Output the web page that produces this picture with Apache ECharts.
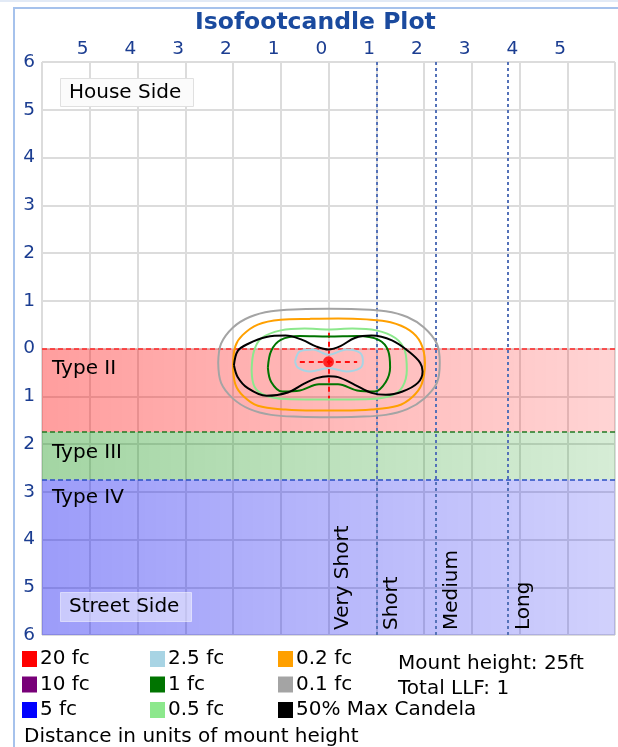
<!DOCTYPE html>
<html>
<head>
<meta charset="utf-8">
<script src="https://cdn.jsdelivr.net/npm/echarts@6/dist/echarts.min.js"></script>
<style>
html, body { margin: 0; padding: 0; background: #fff; }
#chart { width: 618px; height: 747px; }
</style>
</head>
<body>
<div id="chart"></div>
<script>
// distances are in units of mount height
const xMin = -6, xMax = 6
const yMin = -6, yMax = 6

// lateral classification bands
const bandNames = ['Type II', 'Type III', 'Type IV']
const bandTops = [0, -1.75, -2.75]
const bandBottoms = [-1.75, -2.75, -6]

// longitudinal classification lines
const rangeLines = [1, 2.25, 3.75]
const rangeNames = ['Short', 'Medium', 'Long']
const veryShortLine = 1

// legend entries, column by column
const legendCol1 = ['20 fc', '10 fc', '5 fc']
const legendCol2 = ['2.5 fc', '1 fc', '0.5 fc']
const legendCol3 = ['0.2 fc', '0.1 fc', '50% Max Candela']
const infoLines = ['Mount height: 25ft', 'Total LLF: 1']

// isofootcandle contours
const fc01 = [[-2.31, -0.3], [-2.25, 0.1], [-2.0, 0.44], [-1.65, 0.66], [-1.2, 0.78], [-0.6, 0.82], [0, 0.83], [0.6, 0.82], [1.2, 0.78], [1.65, 0.66], [2.0, 0.44], [2.27, 0.1], [2.33, -0.3], [2.27, -0.72], [2.0, -1.05], [1.65, -1.27], [1.2, -1.39], [0.6, -1.43], [0, -1.44], [-0.6, -1.43], [-1.2, -1.39], [-1.65, -1.27], [-2.0, -1.05], [-2.25, -0.72], [-2.31, -0.3]]
const fc02 = [[-2.0, -0.35], [-1.95, 0.05], [-1.8, 0.28], [-1.48, 0.5], [-1.0, 0.6], [-0.4, 0.62], [0.2, 0.63], [0.8, 0.61], [1.3, 0.55], [1.7, 0.38], [1.93, 0.12], [2.02, -0.3], [1.95, -0.75], [1.75, -1.02], [1.45, -1.2], [0.9, -1.28], [0.3, -1.3], [-0.3, -1.3], [-0.9, -1.28], [-1.48, -1.2], [-1.78, -1.0], [-1.95, -0.75], [-2.0, -0.35]]
const fc05 = [[-1.61, -0.45], [-1.56, -0.05], [-1.4, 0.22], [-1.0, 0.38], [-0.5, 0.42], [0, 0.4], [0.5, 0.42], [1.0, 0.38], [1.4, 0.22], [1.6, -0.05], [1.64, -0.45], [1.55, -0.8], [1.33, -0.98], [0.9, -1.06], [0.3, -1.07], [-0.3, -1.07], [-0.9, -1.06], [-1.33, -0.98], [-1.55, -0.8], [-1.61, -0.45]]
const fc1 = [[-1.27, -0.4], [-1.2, -0.05], [-1.0, 0.18], [-0.6, 0.26], [0, 0.25], [0.6, 0.26], [1.05, 0.18], [1.25, -0.05], [1.29, -0.4], [1.2, -0.7], [0.97, -0.9], [0.6, -0.88], [0.2, -0.75], [-0.2, -0.75], [-0.6, -0.88], [-0.97, -0.9], [-1.2, -0.7], [-1.27, -0.4]]
const fc25 = [[-0.7, -0.27], [-0.6, -0.06], [-0.32, -0.02], [0, -0.13], [0.38, -0.02], [0.66, -0.09], [0.72, -0.27], [0.66, -0.41], [0.38, -0.48], [0, -0.41], [-0.38, -0.48], [-0.64, -0.4], [-0.7, -0.27]]
const maxCandela50 = [[-1.98, -0.35], [-1.9, -0.05], [-1.68, 0.1], [-1.3, 0.24], [-0.9, 0.27], [-0.55, 0.18], [-0.25, 0.04], [0, -0.02], [0.25, 0.05], [0.55, 0.22], [0.9, 0.27], [1.33, 0.17], [1.7, -0.08], [1.92, -0.3], [1.97, -0.48], [1.87, -0.72], [1.55, -0.9], [1.2, -0.97], [0.9, -0.93], [0.55, -0.76], [0.2, -0.6], [0, -0.58], [-0.25, -0.62], [-0.5, -0.73], [-0.85, -0.92], [-1.3, -0.99], [-1.69, -0.83], [-1.9, -0.6], [-1.98, -0.35]]

// luminaire position and its aiming cross
const luminaire = [[0, -0.28]]
const crossVertical = [[0, 0.33], [0, -1.05]]
const crossHorizontal = [[-0.6, -0.28], [0.6, -0.28]]

const font = 'DejaVu Sans'
const tickBlue = '#1b3d91'
const textSize = 20

const bandColors = [
  ['rgba(255,0,0,0.38)', 'rgba(255,0,0,0.17)'],
  ['rgba(0,140,0,0.36)', 'rgba(0,140,0,0.16)'],
  ['rgba(0,0,240,0.39)', 'rgba(0,0,240,0.18)']
]
const bandLineColors = ['#ff2a2a', '#237a23', '#2b4fc4']
const bandLabelOffset = [[10, 10], [10, 11], [10, 8]]

const seriesColors = {
  '20 fc': '#ff0000',
  '10 fc': '#780078',
  '5 fc': '#0000ff',
  '2.5 fc': '#a8d4e4',
  '1 fc': '#007400',
  '0.5 fc': '#8ce88c',
  '0.2 fc': '#ffa000',
  '0.1 fc': '#a4a4a4',
  '50% Max Candela': '#000000'
}
const contourData = {
  '2.5 fc': fc25,
  '1 fc': fc1,
  '0.5 fc': fc05,
  '0.2 fc': fc02,
  '0.1 fc': fc01,
  '50% Max Candela': maxCandela50
}

const chartDom = document.getElementById('chart')
const chart = echarts.init(chartDom)

const absLabel = v => String(Math.abs(Math.round(v)))

const contourSeries = legendCol1.concat(legendCol2, legendCol3).map(name => ({
  name: name,
  type: 'line',
  data: contourData[name] || [],
  smooth: 0.35,
  symbol: 'none',
  color: seriesColors[name],
  lineStyle: { color: seriesColors[name], width: 2 },
  z: name === '50% Max Candela' ? 6 : 5,
  animation: false
}))

const legendBase = (data, left) => ({
  data: data,
  orient: 'vertical',
  left: left,
  top: 649,
  icon: 'rect',
  itemWidth: 15,
  itemHeight: 16,
  itemGap: 5.5,
  padding: 0,
  selectedMode: false,
  textStyle: { fontFamily: font, fontSize: textSize, color: '#000', padding: [0, 0, 0, -2] }
})

const plainText = { fontFamily: font, fontSize: textSize, fontWeight: 'normal', color: '#000' }

const option = {
  animation: false,
  title: [
    {
      text: 'Isofootcandle Plot',
      left: 195,
      top: 11,
      padding: 0,
      textStyle: { fontFamily: font, fontSize: 23.5, fontWeight: 'bold', color: '#1a4a9e' }
    },
    {
      text: 'House Side',
      left: 60,
      top: 78,
      padding: [5, 12, 4, 9],
      backgroundColor: '#fbfbfb',
      borderColor: '#e0e0e0',
      borderWidth: 1,
      textStyle: plainText
    },
    {
      text: 'Street Side',
      left: 60,
      top: 592,
      padding: [5, 12, 5, 9],
      backgroundColor: 'rgba(255,255,255,0.45)',
      borderColor: 'rgba(255,255,255,0.5)',
      borderWidth: 1,
      textStyle: plainText
    },
    {
      text: infoLines.join('\n'),
      left: 398,
      top: 652,
      padding: 0,
      textStyle: Object.assign({ lineHeight: 24.5 }, plainText)
    },
    {
      text: 'Distance in units of mount height',
      left: 24,
      top: 727,
      padding: 0,
      textStyle: plainText
    }
  ],
  legend: [
    legendBase(legendCol1, 22),
    legendBase(legendCol2, 150),
    legendBase(legendCol3, 278)
  ],
  graphic: [
    { type: 'line', shape: { x1: 0, y1: 1, x2: 618, y2: 1 }, style: { stroke: '#e2eaf6', lineWidth: 2 } },
    { type: 'rect', shape: { x: 14, y: 8, width: 640, height: 760 }, style: { fill: 'none', stroke: '#a6c2ec', lineWidth: 2 } }
  ],
  grid: { left: 42, right: 3, top: 62, bottom: 112, containLabel: false },
  xAxis: {
    type: 'value',
    position: 'top',
    min: xMin,
    max: xMax,
    interval: 1,
    axisLine: { show: false },
    axisTick: { show: false },
    axisLabel: {
      fontFamily: font,
      fontSize: 18.5,
      color: tickBlue,
      margin: 3,
      padding: [0, 14, 0, 0],
      formatter: v => (Math.abs(v) === 6 ? '' : absLabel(v))
    },
    splitLine: { show: true, lineStyle: { color: '#dcdcdc', width: 2 } }
  },
  yAxis: {
    type: 'value',
    min: yMin,
    max: yMax,
    interval: 1,
    axisLine: { show: false },
    axisTick: { show: false },
    axisLabel: {
      fontFamily: font,
      fontSize: 18.5,
      color: tickBlue,
      margin: 7,
      formatter: absLabel
    },
    splitLine: { show: true, lineStyle: { color: '#dcdcdc', width: 2 } }
  },
  series: [
    {
      name: 'zones',
      type: 'line',
      data: [],
      z: 2,
      markArea: {
        silent: true,
        data: bandNames.map((name, i) => [
          {
            name: name,
            yAxis: bandTops[i],
            itemStyle: {
              color: new echarts.graphic.LinearGradient(0, 0, 1, 0, [
                { offset: 0, color: bandColors[i][0] },
                { offset: 1, color: bandColors[i][1] }
              ])
            },
            label: {
              show: true,
              position: 'insideTopLeft',
              distance: 0,
              offset: bandLabelOffset[i],
              fontFamily: font,
              fontSize: textSize,
              color: '#000'
            }
          },
          { yAxis: bandBottoms[i] }
        ])
      },
      markLine: {
        silent: true,
        symbol: 'none',
        animation: false,
        data: bandTops.map((v, i) => ({
          yAxis: v,
          label: { show: false },
          lineStyle: { color: bandLineColors[i], type: [5, 3], width: 1.5 }
        })).concat([{
          xAxis: veryShortLine,
          label: {
            show: true,
            formatter: 'Very Short',
            position: 'insideStartTop',
            distance: [5, 23],
            fontFamily: font,
            fontSize: textSize,
            color: '#000'
          },
          lineStyle: { color: '#5572b8', type: [3, 3], width: 2 }
        }]).concat(rangeLines.map((v, i) => ({
          xAxis: v,
          label: {
            show: true,
            formatter: rangeNames[i],
            position: 'insideStartBottom',
            distance: [5, 6],
            fontFamily: font,
            fontSize: textSize,
            color: '#000'
          },
          lineStyle: { color: '#5572b8', type: [3, 3], width: 2 }
        })))
      }
    },
    ...contourSeries,
    {
      name: 'aim',
      type: 'line',
      data: [],
      z: 7,
      markLine: {
        silent: true,
        symbol: 'none',
        label: { show: false },
        lineStyle: { color: '#ff1010', type: [5, 4], width: 2 },
        data: [crossVertical, crossHorizontal].map(seg => [{ coord: seg[0] }, { coord: seg[1] }])
      }
    },
    {
      name: 'luminaire',
      type: 'scatter',
      data: luminaire,
      symbolSize: 11,
      itemStyle: { color: '#ff0000' },
      z: 8
    }
  ]
}

option && chart.setOption(option)
</script>
</body>
</html>
